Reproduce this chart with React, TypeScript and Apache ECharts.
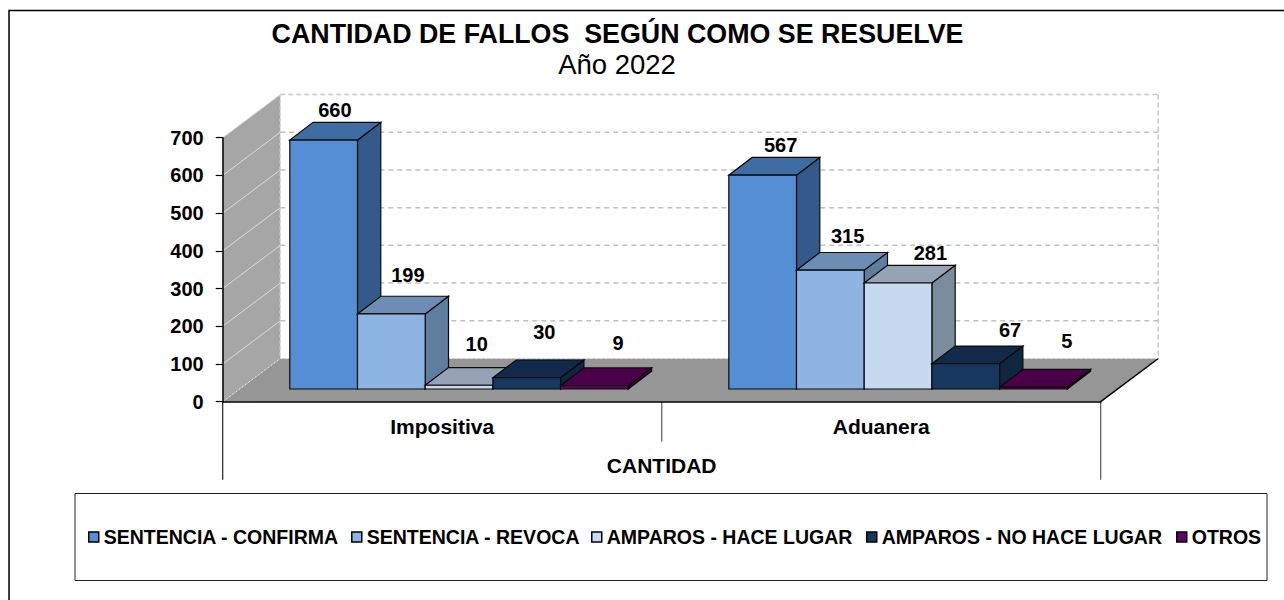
import React, { useEffect, useRef } from "react";
import * as echarts from "echarts";

const categories = ["Impositiva", "Aduanera"];
const seriesNames = [
  "SENTENCIA - CONFIRMA",
  "SENTENCIA - REVOCA",
  "AMPAROS - HACE LUGAR",
  "AMPAROS - NO HACE LUGAR",
  "OTROS",
];
const confirma = [660, 567];
const revoca = [199, 315];
const haceLugar = [10, 281];
const noHaceLugar = [30, 67];
const otros = [9, 5];
const seriesValues = [confirma, revoca, haceLugar, noHaceLugar, otros];
const yTicks = [100, 200, 300, 400, 500, 600, 700];

const FONT = "'Liberation Sans', Arial, sans-serif";
const faces = [
  { front: "#558ed5", top: "#3f6ca3", side: "#335a8a" },
  { front: "#8db4e2", top: "#6d8db5", side: "#5f7d9f" },
  { front: "#c6d9f1", top: "#95a3b5", side: "#7d8c9b" },
  { front: "#17375e", top: "#12294a", side: "#10263f" },
  { front: "#660066", top: "#4a0048", side: "#3a0038" },
];
// label nudges relative to the top of each bar's front face: [dx, dy]
const labelNudge = [
  [[11.7, -30], [18.4, -30]],
  [[17, -39], [17.7, -34]],
  [[18, -41], [32.7, -30]],
  [[18, -46], [44.7, -33.7]],
  [[24, -42.6], [33.7, -46]],
];

const GRID = { left: 222.7, right: 1100.7, top: 137.7, bottom: 401.7 };
const DEPTH_X = 57.6;
const DEPTH_Y = 43.2;
const BAR_W = 67.7;
const BAR_DX = 23.3;
const BAR_DY = 17.7;
const SHIFT_X = 16.85;
const SHIFT_Y = 12.7;

const poly = (points: number[][], fill: string, stroke?: string, lw = 1) => ({
  type: "polygon",
  silent: true,
  shape: { points },
  style: { fill, stroke: stroke ?? "none", lineWidth: lw },
});
const seg = (a: number[], b: number[], stroke: string, lw = 1, lineDash?: number[]) => ({
  type: "line",
  silent: true,
  shape: { x1: a[0], y1: a[1], x2: b[0], y2: b[1] },
  style: { stroke, lineWidth: lw, lineDash, fill: "none" },
});

function renderBackdrop(_p: any, api: any) {
  const band = api.size([1, 0])[0];
  const l = api.coord([0, 0])[0] - band / 2;
  const r = api.coord([1, 0])[0] + band / 2;
  const m = (l + r) / 2;
  const y0 = api.coord([0, 0])[1];
  const yMax = api.coord([0, 700])[1];
  const bl = l + DEPTH_X;
  const br = r + DEPTH_X;
  const by0 = y0 - DEPTH_Y;
  const byMax = yMax - DEPTH_Y;
  const children: any[] = [
    poly([[l, yMax], [bl, byMax], [bl, by0], [l, y0]], "#a6a6a6"),
    poly([[l, y0], [r, y0], [br, by0], [bl, by0]], "#969696"),
    seg([r, y0], [br, by0], "#000", 1.5),
    seg([l, y0], [l, y0 + 78], "#222", 1.2),
    seg([r, y0], [r, y0 + 78], "#555", 1.2),
    seg([m, y0], [m, y0 + 40], "#777", 1.5),
    seg([bl, byMax], [br, byMax], "#c8c8c8", 1.5, [5, 3]),
    seg([br, byMax], [br, by0], "#c8c8c8", 1.5, [5, 3]),
    seg([bl, byMax], [bl, by0], "#d8d8d8", 1.5, [3, 3]),
    seg([bl, by0], [br, by0], "#e8e8e8", 1, [2, 3]),
    seg([l, y0], [bl, by0], "#e8e8e8", 1, [2, 2]),
  ];
  yTicks.forEach((t) => {
    const y = api.coord([0, t])[1];
    children.push(seg([l, y], [bl, y - DEPTH_Y], "#d9d9d9", 1));
    if (t < 700) children.push(seg([bl, y - DEPTH_Y], [br, y - DEPTH_Y], "#c0c0c0", 1.5, [5, 4]));
  });
  return { type: "group", children };
}

function renderBar(params: any, api: any) {
  const s = params.seriesIndex - 1;
  const cat = api.value(0);
  const v = api.value(1);
  const c = api.coord([cat, v]);
  const base = api.coord([cat, 0]);
  const x = c[0] - (5 * BAR_W) / 2 + s * BAR_W + SHIFT_X;
  const yTop = c[1] - SHIFT_Y;
  const yBase = base[1] - SHIFT_Y;
  const f = faces[s];
  const edge = "#0a0a0a";
  const nudge = labelNudge[s][cat];
  return {
    type: "group",
    children: [
      poly([[x + BAR_W, yTop], [x + BAR_W + BAR_DX, yTop - BAR_DY], [x + BAR_W + BAR_DX, yBase - BAR_DY], [x + BAR_W, yBase]], f.side, edge, 1.2),
      poly([[x, yTop], [x + BAR_W, yTop], [x + BAR_W + BAR_DX, yTop - BAR_DY], [x + BAR_DX, yTop - BAR_DY]], f.top, edge, 1.2),
      poly([[x, yTop], [x + BAR_W, yTop], [x + BAR_W, yBase], [x, yBase]], f.front, edge, 1.2),
      {
        type: "text",
        silent: true,
        style: {
          x: x + BAR_W / 2 + nudge[0] - 0.4,
          y: yTop + nudge[1],
          text: String(v),
          fill: "#000",
          font: `bold 20px ${FONT}`,
          align: "center",
          verticalAlign: "middle",
        },
      },
    ],
  };
}

const legendLefts = [88, 351, 591, 866, 1176];

export default function App() {
  const ref = useRef<HTMLDivElement>(null);
  useEffect(() => {
    const chart = echarts.init(ref.current!, null, { renderer: "svg" });
    chart.setOption({
      animation: false,
      backgroundColor: "#fff",
      title: [
        {
          text: "CANTIDAD DE FALLOS  SEGÚN COMO SE RESUELVE",
          left: 617.5,
          top: 20,
          padding: 0,
          textAlign: "center",
          textStyle: { fontFamily: FONT, fontWeight: "bold", fontSize: 26.8, color: "#000" },
        },
        {
          text: "Año 2022",
          left: 617,
          top: 50,
          padding: 0,
          textAlign: "center",
          textStyle: { fontFamily: FONT, fontWeight: "normal", fontSize: 27.5, color: "#000" },
        },
      ],
      grid: {
        left: GRID.left,
        top: GRID.top,
        width: GRID.right - GRID.left,
        height: GRID.bottom - GRID.top,
        containLabel: false,
      },
      legend: seriesNames.map((n, i) => ({
        data: [n],
        left: legendLefts[i],
        top: 527,
        padding: 0,
        itemWidth: 10,
        itemHeight: 10,
        itemGap: 0,
        icon: "rect",
        itemStyle: { borderColor: "#000", borderWidth: 1.5 },
        selectedMode: false,
        textStyle: { fontFamily: FONT, fontWeight: "bold", fontSize: 19.5, color: "#000" },
      })),
      xAxis: {
        type: "category",
        data: categories,
        name: "CANTIDAD",
        nameLocation: "middle",
        nameGap: 53,
        nameTextStyle: { fontFamily: FONT, fontWeight: "bold", fontSize: 21, color: "#000" },
        z: 6,
        axisLine: { lineStyle: { color: "#000", width: 1.5 } },
        axisTick: { show: false },
        axisLabel: { margin: 14, fontFamily: FONT, fontWeight: "bold", fontSize: 21, color: "#000" },
      },
      yAxis: {
        type: "value",
        min: 0,
        max: 700,
        interval: 100,
        z: 6,
        axisLine: { show: true, lineStyle: { color: "#000", width: 1.5 } },
        axisTick: { show: true, length: 7, lineStyle: { color: "#000", width: 1.2 } },
        splitLine: { show: false },
        axisLabel: { margin: 19, fontFamily: FONT, fontWeight: "bold", fontSize: 20, color: "#000" },
      },
      graphic: [
        {
          type: "rect",
          silent: true,
          shape: { x: 9, y: 10.5, width: 1300, height: 620 },
          style: { fill: "none", stroke: "#000", lineWidth: 1.5 },
          z: -1,
        },
        {
          type: "rect",
          silent: true,
          shape: { x: 75, y: 493.5, width: 1192, height: 87 },
          style: { fill: "none", stroke: "#222", lineWidth: 1 },
          z: -1,
        },
      ],
      series: [
        {
          type: "custom",
          name: "backdrop",
          renderItem: renderBackdrop,
          data: [[0, 0]],
          silent: true,
          z: 1,
        },
        ...seriesNames.map((name, i) => ({
          type: "custom",
          name,
          renderItem: renderBar,
          itemStyle: { color: faces[i].front },
          data: seriesValues[i].map((v, c) => [c, v]),
          encode: { x: 0, y: 1 },
          silent: true,
          z: 2,
        })),
      ],
    });
    return () => chart.dispose();
  }, []);
  return <div ref={ref} style={{ position: "fixed", left: 0, top: 0, width: 1284, height: 600 }} />;
}
